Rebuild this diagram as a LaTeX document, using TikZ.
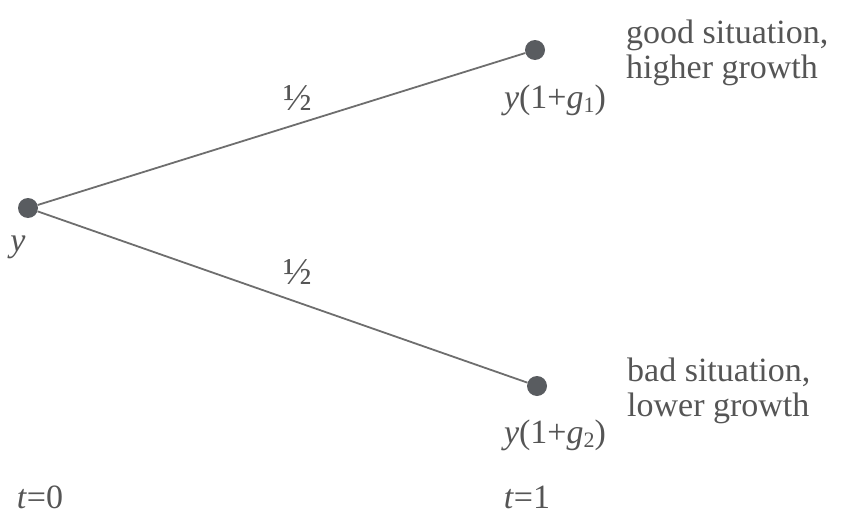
\documentclass[tikz,border=0pt]{standalone}
\usepackage{fontspec}
\setmainfont{Liberation Serif}
\begin{document}
\begin{tikzpicture}[x=1pt,y=-1pt,
  dot/.style={circle,fill=dotgray,inner sep=0pt,minimum size=20pt},
  edge/.style={draw=linegray,line width=1.8pt},
  lbl/.style={text=txtgray,font=\fontsize{34}{34}\selectfont,inner sep=0pt},
  desc/.style={lbl,align=left,anchor=north west,font=\fontsize{34}{35}\selectfont},
  half/.style={lbl,font=\fontsize{38}{38}\selectfont}]
\definecolor{dotgray}{HTML}{595C60}
\definecolor{linegray}{HTML}{6E6E6E}
\definecolor{txtgray}{HTML}{555555}
\useasboundingbox (0,0) rectangle (844,514);
\node[dot] (s) at (28,208) {};
\node[dot] (u) at (535,50) {};
\node[dot] (d) at (537,386) {};
\draw[edge] (s) -- (u);
\draw[edge] (s) -- (d);
\node[lbl] (ys) at (18,247) {\textit{y}};
\node[lbl] (yu) at (555,100) {\textit{y}(1+\textit{g}\raisebox{-0.3ex}{\fontsize{22}{22}\selectfont 1})};
\node[lbl] (yd) at (555,435) {\textit{y}(1+\textit{g}\raisebox{-0.3ex}{\fontsize{22}{22}\selectfont 2})};
\node[desc] (gs) at (626,20) {good situation,\\higher growth};
\node[desc] (bs) at (627,358) {bad situation,\\lower growth};
\node[half] (pu) at (298,98) {½};
\node[half] (pd) at (298,272) {½};
\node[lbl] (t0) at (40,497) {\textit{t}=0};
\node[lbl] (t1) at (527,497) {\textit{t}=1};
\end{tikzpicture}
\end{document}
